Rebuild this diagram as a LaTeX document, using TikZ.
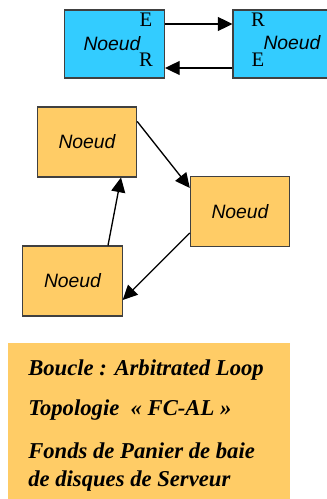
\documentclass[tikz,border=0pt]{standalone}
\usepackage{fontspec}
\setmainfont{Liberation Serif}
\newfontfamily\arialf{Liberation Sans}
\usetikzlibrary{arrows.meta,calc}
\definecolor{cyanbox}{HTML}{33CCFF}
\definecolor{orangebox}{HTML}{FFCC66}
\definecolor{edgegray}{HTML}{404040}
\begin{document}
\begin{tikzpicture}[x=0.75pt,y=-0.75pt,
  cbox/.style={draw=edgegray,line width=0.8pt,fill=cyanbox,minimum width=75pt,minimum height=51pt,inner sep=0pt},
  obox/.style={draw=edgegray,line width=0.8pt,fill=orangebox,minimum width=74.5pt,minimum height=52.5pt,inner sep=0pt,font=\arialf\itshape\fontsize{14.5}{16}\selectfont},
  lbl/.style={inner sep=0pt,font=\arialf\itshape\fontsize{14.5}{16}\selectfont},
  port/.style={inner sep=0pt,font=\fontsize{15.5}{17}\selectfont},
  conn/.style={line width=1pt,-{Triangle[length=11pt,width=10.5pt]}},
  txt/.style={inner sep=0pt,anchor=base west,font=\bfseries\itshape\fontsize{17}{19}\selectfont}]
\clip (0,0) rectangle (327,499);
\fill[white] (0,0) rectangle (327,499);
% top cyan pair
\node[cbox] (c1) at (114.5,44) {};
\node[cbox] (c2) at (283,44) {};
\node[lbl] (n1) at (112,44) {Noeud};
\node[port] (e1) at (146,20) {E};
\node[port] (r1) at (146,60) {R};
\node[port] (r2) at (258,20) {R};
\node[port] (e2) at (258,60) {E};
\node[lbl] (n2) at (292,43) {Noeud};
\draw[conn] ($(c1.east)+(0,-20)$) -- ($(c2.west)+(0,-20)$);
\draw[conn] ($(c2.west)+(0,24)$) -- ($(c1.east)+(0,24)$);
% orange loop
\node[obox] (tl) at (87,142) {Noeud};
\node[obox] (rt) at (240,211.5) {Noeud};
\node[obox] (bl) at (72.5,281) {Noeud};
\draw[conn] ($(tl.north east)+(0,15)$) -- ($(rt.north west)+(0,12)$);
\draw[conn] ($(bl.north)+(35.5,0)$) -- ($(tl.south)+(34,0)$);
\draw[conn] ($(rt.west)+(0,21.5)$) -- ($(bl.east)+(0,19)$);
% text box
\fill[orangebox] (8,343) rectangle (290,510);
\node[txt] (t1) at (28,375) {Boucle : Arbitrated Loop};
\node[txt] (t2) at (28,415) {Topologie\ \ « FC-AL »};
\node[txt] (t3) at (28,458) {Fonds de Panier de baie};
\node[txt] (t4) at (28,486) {de disques de Serveur};
\end{tikzpicture}
\end{document}
